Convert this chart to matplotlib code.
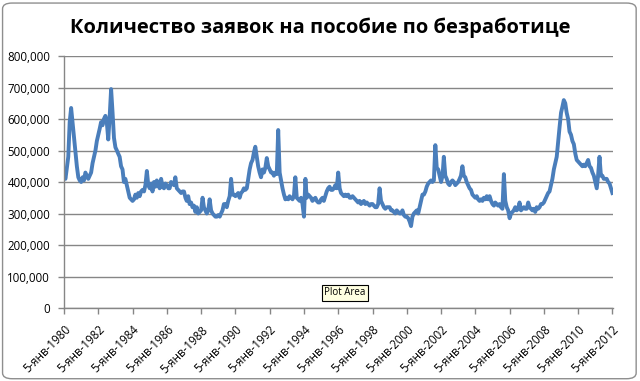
import numpy as np
import pandas as pd
import matplotlib
matplotlib.use("Agg")
import matplotlib.pyplot as plt
from matplotlib.patches import FancyBboxPatch
from matplotlib.ticker import FuncFormatter

plt.rcParams['font.family'] = ['Open Sans', 'DejaVu Sans']

# monthly readings of weekly initial claims, Jan 1980 .. Jan 2012
claims = {
    1980: [420, 410, 445, 480, 590, 635, 590, 545, 500, 450, 415, 405],
    1981: [400, 415, 405, 430, 420, 410, 420, 430, 460, 480, 500, 530],
    1982: [550, 570, 590, 580, 600, 610, 590, 535, 610, 695, 620, 540],
    1983: [510, 500, 490, 480, 450, 440, 400, 410, 390, 370, 350, 345],
    1984: [340, 345, 360, 350, 365, 355, 370, 375, 370, 390, 435, 390],
    1985: [380, 395, 370, 400, 385, 405, 390, 380, 410, 385, 380, 395],
    1986: [390, 380, 380, 400, 395, 390, 415, 380, 375, 370, 365, 370],
    1987: [370, 350, 340, 355, 330, 335, 320, 325, 305, 320, 300, 305],
    1988: [310, 350, 320, 310, 300, 310, 345, 310, 300, 295, 290, 290],
    1989: [295, 290, 300, 310, 330, 330, 320, 340, 355, 410, 360, 360],
    1990: [355, 360, 365, 350, 365, 370, 380, 375, 380, 410, 440, 460],
    1991: [470, 495, 512, 480, 450, 430, 415, 440, 430, 445, 476, 450],
    1992: [440, 430, 430, 420, 430, 425, 565, 430, 405, 380, 360, 345],
    1993: [350, 345, 355, 350, 345, 355, 415, 350, 345, 340, 350, 330],
    1994: [290, 410, 350, 360, 355, 350, 340, 345, 350, 340, 335, 335],
    1995: [345, 350, 340, 355, 370, 380, 385, 375, 375, 380, 390, 380],
    1996: [430, 380, 365, 360, 355, 360, 355, 360, 350, 350, 355, 350],
    1997: [345, 340, 335, 340, 330, 335, 340, 330, 335, 330, 325, 330],
    1998: [330, 325, 320, 320, 330, 380, 340, 330, 320, 315, 320, 320],
    1999: [320, 310, 310, 305, 300, 310, 305, 300, 300, 310, 295, 290],
    2000: [290, 285, 275, 260, 290, 300, 305, 310, 300, 320, 340, 360],
    2001: [360, 370, 385, 395, 400, 405, 400, 405, 517, 445, 440, 420],
    2002: [400, 420, 480, 420, 410, 395, 390, 400, 405, 400, 390, 395],
    2003: [400, 410, 420, 450, 420, 415, 400, 390, 380, 375, 360, 355],
    2004: [350, 355, 345, 340, 345, 340, 350, 345, 355, 345, 355, 340],
    2005: [330, 325, 335, 330, 325, 330, 320, 315, 425, 340, 320, 310],
    2006: [285, 300, 305, 310, 320, 310, 315, 335, 310, 315, 320, 315],
    2007: [315, 335, 320, 315, 310, 315, 305, 320, 315, 320, 330, 330],
    2008: [335, 345, 355, 365, 370, 390, 410, 440, 460, 480, 530, 575],
    2009: [620, 640, 660, 650, 620, 600, 560, 550, 530, 520, 490, 470],
    2010: [465, 460, 455, 450, 455, 450, 460, 470, 450, 445, 430, 420],
    2011: [400, 380, 420, 480, 420, 420, 410, 410, 410, 400, 395, 380],
    2012: [365],
}
values = np.array([v for yr in sorted(claims) for v in claims[yr]]) * 1000
dates = pd.date_range('1980-01-01', periods=len(values), freq='MS') + pd.Timedelta(days=4)

tick_years = list(range(1980, 2013, 2))
tick_labels = [f"5-янв-{y}" for y in tick_years]

fig = plt.figure(figsize=(6.4, 3.81), dpi=100)
fig.patch.set_facecolor('white')
frame = FancyBboxPatch((0.004, 0.006), 0.99, 0.986, boxstyle="round,pad=0,rounding_size=0.015",
                       transform=fig.transFigure, facecolor='none', edgecolor='#8e8e8e',
                       lw=1.0, zorder=-5)
fig.patches.append(frame)

ax = fig.add_axes([0.1, 0.1916, 0.858, 0.6614])
ax.set_facecolor('none')
ax.plot(dates, values, color='#4a7ebb', lw=2.8, solid_joinstyle='round')

ax.set_ylim(0, 800000)
ax.set_yticks(np.arange(0, 800001, 100000))
ax.yaxis.set_major_formatter(FuncFormatter(lambda v, p: f"{int(v):,}"))
ax.grid(axis='y', color='#868686', lw=1.0)
ax.set_axisbelow(True)

ticks = [pd.Timestamp(f"{y}-01-05") for y in tick_years]
ax.set_xlim(ticks[0], pd.Timestamp("2012-01-20"))
ax.set_xticks(ticks)
ax.set_xticklabels(tick_labels, rotation=45, ha='right', va='top', rotation_mode='anchor')

for s in ['top', 'right']:
    ax.spines[s].set_visible(False)
for s in ['left', 'bottom']:
    ax.spines[s].set_color('#868686')
    ax.spines[s].set_linewidth(1.0)
ax.tick_params(axis='both', color='#868686', length=4, width=1, labelsize=8.3)
ax.tick_params(axis='x', pad=7)
ax.tick_params(axis='y', pad=6)

fig.text(0.5, 0.928, "Количество заявок на пособие по безработице", ha='center', va='center',
         fontsize=14.5, fontweight='bold')
fig.text(0.539, 0.232, "Plot Area", ha='center', va='center', fontsize=7,
         bbox=dict(boxstyle='square,pad=0.25', facecolor='#ffffe1', edgecolor='black', lw=0.8))

fig.savefig("out.png", dpi=100)
